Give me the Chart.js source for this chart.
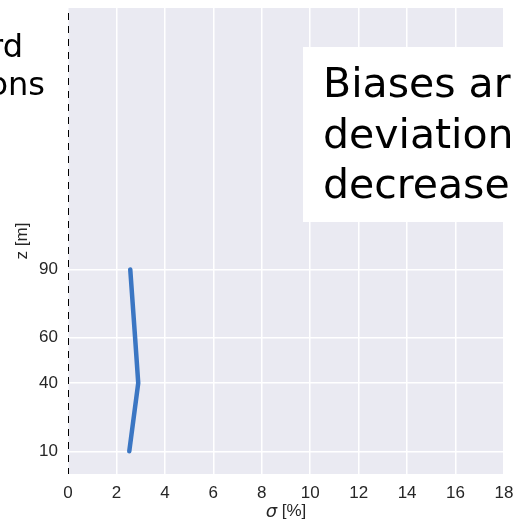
<!DOCTYPE html>
<html>
<head>
<meta charset="utf-8">
<script src="https://cdn.jsdelivr.net/npm/chart.js@4/dist/chart.umd.min.js"></script>
<style>
html,body{margin:0;padding:0;background:#fff;}
#wrap{width:518px;height:528px;}
</style>
</head>
<body>
<div id="wrap"><canvas id="c" width="518" height="528"></canvas></div>
<script>
// Data
const heights = [10, 40, 60, 90];          // z [m]
const sigmaValues = [2.53, 2.9, 2.77, 2.57]; // sigma [%]
const yTickValues = [10, 40, 60, 90];
const xTickStep = 2;
const xRange = [0, 18];
const yRange = [0, 205];
const boxLines = ["Biases ar", "deviation", "decrease"];
const leftLines = ["rd", "ons"];
const xTitleSym = "σ";
const xTitleUnit = " [%]";
const yTitle = "z [m]";

const tickFont = {family: "'Liberation Sans', Arial, sans-serif", size: 17};
const textColor = '#262626';

const profile = heights.map((z, i) => ({x: sigmaValues[i], y: z}));
const refLine = [{x: 0, y: yRange[1]}, {x: 0, y: yRange[0]}];

const deco = {
  id: 'deco',
  beforeDraw(chart) {
    const {ctx, chartArea: a} = chart;
    ctx.save();
    ctx.fillStyle = '#ffffff';
    ctx.fillRect(0, 0, chart.width, chart.height);
    ctx.fillStyle = '#EAEAF2';
    ctx.fillRect(a.left, a.top, a.right - a.left, a.bottom - a.top);
    ctx.restore();
  },
  afterDraw(chart) {
    const {ctx, chartArea: a} = chart;
    ctx.save();
    // annotation box
    ctx.fillStyle = '#ffffff';
    ctx.fillRect(303, 47, 230, 175);
    ctx.fillStyle = '#000';
    ctx.font = "41px 'DejaVu Sans'";
    ctx.textAlign = 'left';
    ctx.textBaseline = 'alphabetic';
    const bases = [97, 148, 198];
    boxLines.forEach((t, i) => ctx.fillText(t, 323, bases[i]));
    // left clipped text
    ctx.font = "32px 'DejaVu Sans'";
    ctx.textAlign = 'right';
    ctx.fillText(leftLines[0], 23, 57);
    ctx.fillText(leftLines[1], 45, 95);
    // x title
    ctx.fillStyle = textColor;
    ctx.textBaseline = 'middle';
    ctx.textAlign = 'left';
    ctx.font = "italic 18px 'DejaVu Sans'";
    const w1 = ctx.measureText(xTitleSym).width;
    ctx.font = "17px 'Liberation Sans'";
    const w2 = ctx.measureText(xTitleUnit).width;
    const cx = (a.left + a.right) / 2;
    const x0 = cx - (w1 + w2) / 2;
    ctx.font = "italic 18px 'DejaVu Sans'";
    ctx.fillText(xTitleSym, x0, 512);
    ctx.font = "17px 'Liberation Sans'";
    ctx.fillText(xTitleUnit, x0 + w1, 511);
    ctx.restore();
  }
};

new Chart(document.getElementById('c'), {
  type: 'scatter',
  data: {
    datasets: [
      {
        data: profile,
        showLine: true,
        borderColor: '#3B76C3',
        backgroundColor: '#3B76C3',
        borderWidth: 4.5,
        borderCapStyle: 'round',
        borderJoinStyle: 'round',
        pointRadius: 0,
        pointHoverRadius: 0,
        tension: 0
      },
      {
        data: refLine,
        showLine: true,
        borderColor: '#000000',
        borderWidth: 2,
        borderDash: [7, 6],
        borderDashOffset: 8,
        pointRadius: 0,
        pointHoverRadius: 0
      }
    ]
  },
  options: {
    responsive: false,
    animation: false,
    events: [],
    layout: {padding: {left: 0, right: 14, top: 8, bottom: 0}},
    plugins: {legend: {display: false}, tooltip: {enabled: false}},
    scales: {
      x: {
        type: 'linear',
        min: xRange[0],
        max: xRange[1],
        afterFit(s) { s.height = 54; s.paddingLeft = 0; s.paddingRight = 0; },
        ticks: {stepSize: xTickStep, font: tickFont, color: textColor, padding: 9},
        grid: {color: '#ffffff', lineWidth: 1.5, drawTicks: false},
        border: {display: false}
      },
      y: {
        type: 'linear',
        min: yRange[0],
        max: yRange[1],
        afterFit(s) { s.width = 68; s.paddingTop = 0; s.paddingBottom = 0; },
        afterBuildTicks(s) { s.ticks = yTickValues.map(v => ({value: v})); },
        ticks: {font: tickFont, color: textColor, padding: 10},
        grid: {color: '#ffffff', lineWidth: 1.5, drawTicks: false},
        border: {display: false},
        title: {display: true, text: yTitle, font: tickFont, color: textColor, padding: {top: 12, bottom: 0}}
      }
    }
  },
  plugins: [deco]
});
</script>
</body>
</html>
